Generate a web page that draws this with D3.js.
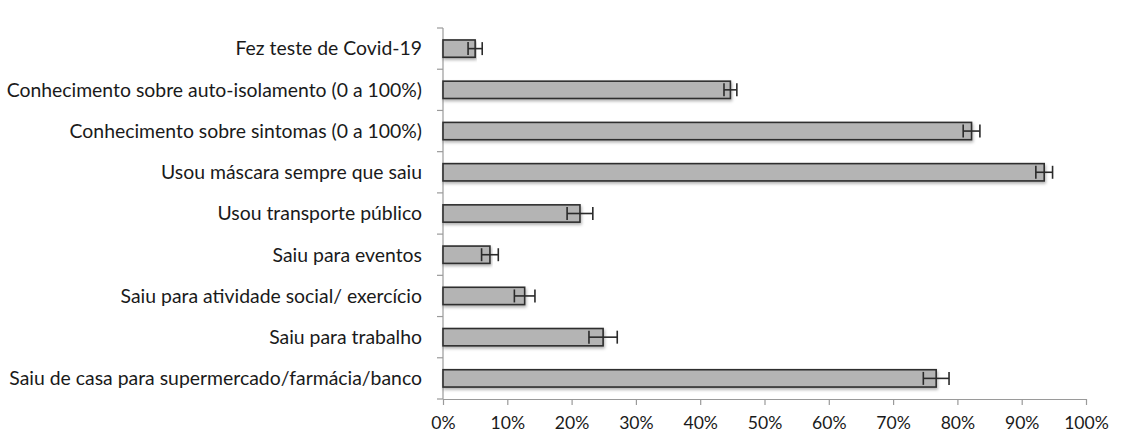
<!DOCTYPE html>
<html>
<head>
<meta charset="utf-8">
<script src="https://cdn.jsdelivr.net/npm/d3@7"></script>
<style>
  html, body { margin: 0; padding: 0; background: #fff; }
  svg { display: block; }
  text { font-family: Lato, "Open Sans", sans-serif; fill: #1a1a1a; }
</style>
</head>
<body>
<svg id="chart" width="1128" height="433"></svg>
<script>
// Survey items, top to bottom
const categories = [
  "Fez teste de Covid-19",
  "Conhecimento sobre auto-isolamento (0 a 100%)",
  "Conhecimento sobre sintomas (0 a 100%)",
  "Usou máscara sempre que saiu",
  "Usou transporte público",
  "Saiu para eventos",
  "Saiu para atividade social/ exercício",
  "Saiu para trabalho",
  "Saiu de casa para supermercado/farmácia/banco"
];
// Share of respondents (%)
const values = [5.0, 44.7, 82.2, 93.5, 21.3, 7.3, 12.7, 24.9, 76.7];
// Error margins (± percentage points)
const errors = [1.1, 1.0, 1.3, 1.3, 2.0, 1.3, 1.6, 2.2, 2.0];
// Axis tick values
const xTicks = [0, 10, 20, 30, 40, 50, 60, 70, 80, 90, 100];

const svg = d3.select("#chart");
const margin = { top: 28, right: 42, bottom: 34, left: 443 };
const width = 1128 - margin.left - margin.right;
const height = 433 - margin.top - margin.bottom;

const defs = svg.append("defs");
const shadow = defs.append("filter").attr("id", "barShadow")
  .attr("x", "-5%").attr("y", "-30%").attr("width", "110%").attr("height", "180%");
shadow.append("feDropShadow")
  .attr("dx", 1).attr("dy", 2).attr("stdDeviation", 1.6)
  .attr("flood-color", "#000").attr("flood-opacity", 0.3);

const g = svg.append("g").attr("transform", `translate(${margin.left},${margin.top})`);

const x = d3.scaleLinear().domain([0, 100]).range([0, width]);
const y = d3.scaleBand().domain(categories).range([0, height])
  .paddingInner(0.58).paddingOuter(0.29);

const axisColor = "#9a9a9a";

// x axis
const xAxis = g.append("g").attr("transform", `translate(0,${height})`)
  .call(d3.axisBottom(x).tickValues(xTicks).tickFormat(d => d + "%").tickSizeInner(6).tickSizeOuter(0).tickPadding(12));
xAxis.select(".domain").attr("stroke", axisColor).attr("stroke-width", 1.2);
xAxis.selectAll(".tick line").attr("stroke", axisColor).attr("stroke-width", 1.2);
xAxis.selectAll(".tick text").style("font-size", "17.6px").attr("fill", "#1a1a1a");

// y axis line with ticks on the category boundaries
const step = y.step();
const boundaries = d3.range(categories.length + 1).map(i => i * step);
g.append("line")
  .attr("x1", 0).attr("x2", 0).attr("y1", 0).attr("y2", height)
  .attr("stroke", axisColor).attr("stroke-width", 1.2);
g.selectAll(".ytick").data(boundaries).join("line")
  .attr("class", "ytick")
  .attr("x1", -6).attr("x2", 0)
  .attr("y1", d => d).attr("y2", d => d)
  .attr("stroke", axisColor).attr("stroke-width", 1.2);

// category labels
g.selectAll(".cat").data(categories).join("text")
  .attr("class", "cat")
  .attr("x", -21)
  .attr("y", d => y(d) + y.bandwidth() / 2)
  .attr("dy", "0.35em")
  .attr("text-anchor", "end")
  .style("font-size", "19.4px")
  .text(d => d);

// bars
g.selectAll(".bar").data(values).join("rect")
  .attr("class", "bar")
  .attr("x", x(0))
  .attr("y", (d, i) => y(categories[i]))
  .attr("width", d => x(d) - x(0))
  .attr("height", y.bandwidth())
  .attr("fill", "#b4b4b4")
  .attr("stroke", "#2e2e2e")
  .attr("stroke-width", 1.6)
  .attr("filter", "url(#barShadow)");

// error bars
const capH = y.bandwidth() * 0.75;
const eb = g.selectAll(".err").data(values).join("g").attr("class", "err")
  .attr("transform", (d, i) => `translate(0,${y(categories[i]) + y.bandwidth() / 2})`)
  .attr("stroke", "#2a2a2a").attr("stroke-width", 1.6);
eb.append("line")
  .attr("x1", (d, i) => x(d - errors[i])).attr("x2", (d, i) => x(d + errors[i]))
  .attr("y1", 0).attr("y2", 0);
eb.append("line")
  .attr("x1", (d, i) => x(d - errors[i])).attr("x2", (d, i) => x(d - errors[i]))
  .attr("y1", -capH / 2).attr("y2", capH / 2);
eb.append("line")
  .attr("x1", (d, i) => x(d + errors[i])).attr("x2", (d, i) => x(d + errors[i]))
  .attr("y1", -capH / 2).attr("y2", capH / 2);
</script>
</body>
</html>
